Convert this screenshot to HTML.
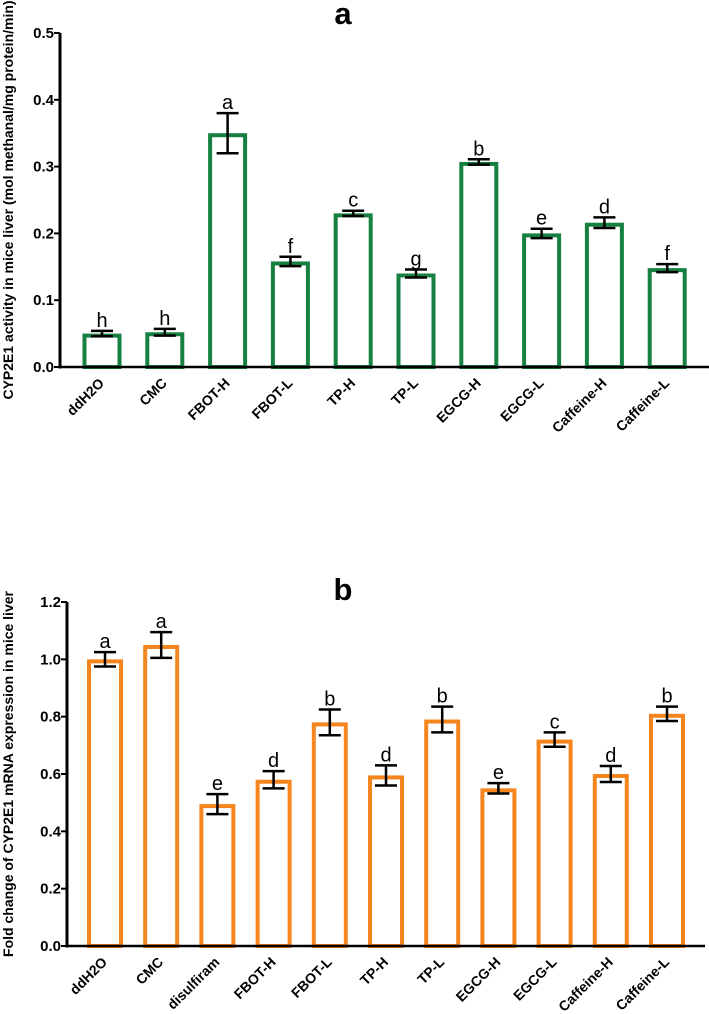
<!DOCTYPE html>
<html><head><meta charset="utf-8"><style>
body{margin:0;background:#fff;}
svg{display:block;font-family:"Liberation Sans",Arial,sans-serif;}
</style></head><body>
<svg id="chart" width="709" height="1014" viewBox="0 0 709 1014"></svg>
<script>
const catsA=["ddH2O","CMC","FBOT-H","FBOT-L","TP-H","TP-L","EGCG-H","EGCG-L","Caffeine-H","Caffeine-L"];
const valsA=[0.050,0.052,0.350,0.158,0.230,0.140,0.307,0.200,0.216,0.148];
const errsA=[0.004,0.005,0.030,0.007,0.004,0.006,0.004,0.007,0.008,0.006];
const letsA=["h","h","a","f","c","g","b","e","d","f"];
const ticksA=["0.0","0.1","0.2","0.3","0.4","0.5"];
const catsB=["ddH2O","CMC","disulfiram","FBOT-H","FBOT-L","TP-H","TP-L","EGCG-H","EGCG-L","Caffeine-H","Caffeine-L"];
const valsB=[1.00,1.05,0.495,0.58,0.78,0.595,0.79,0.55,0.72,0.60,0.81];
const errsB=[0.025,0.045,0.035,0.03,0.045,0.035,0.045,0.018,0.025,0.028,0.025];
const letsB=["a","a","e","d","b","d","b","e","c","d","b"];
const ticksB=["0.0","0.2","0.4","0.6","0.8","1.0","1.2"];
const NS="http://www.w3.org/2000/svg";
const svg=document.getElementById('chart');
function mk(tag,attrs,parent,text){const e=document.createElementNS(NS,tag);for(const k in attrs)e.setAttribute(k,attrs[k]);if(text!==undefined)e.textContent=text;(parent||svg).appendChild(e);return e;}
function panel(o){
  const g=mk('g',{});
  
  
  const y=v=>o.y0-(v/o.ymax)*(o.y0-o.ytop);
  const x=i=>o.x0c+i*o.step;
  const t=mk('text',{x:343,y:o.titleY,'font-size':31,'font-weight':'bold','text-anchor':'middle'},g,o.id);
  
  
  const yt=mk('text',{transform:`translate(${o.ylabX},${(o.y0+o.ytop)/2}) rotate(-90)`,'font-size':o.ylabSize,'font-weight':'bold','text-anchor':'middle'},g,o.ylab);
  
  
  o.ticks.forEach(tk=>{
    const v=parseFloat(tk),yy=y(v);
    const l=mk('line',{x1:o.ax-6,x2:o.ax,y1:yy,y2:yy,stroke:'#000','stroke-width':2},g);
    
    
    const tx=mk('text',{x:o.ax-6,y:yy+5,'font-size':15,'font-weight':'bold','text-anchor':'end'},g,tk);
    
    
  });
  o.vals.forEach((v,i)=>{
    const cx=x(i),top=y(v);
    const r=mk('rect',{x:cx-o.bw/2+2,y:top+2,width:o.bw-4,height:o.y0-top-2,fill:'#fff',stroke:o.color,'stroke-width':4},g);
    
    
    const e=o.errs[i],yh=y(v+e),yl=y(v-e);
    const eg=mk('g',{stroke:'#000','stroke-width':2.5},g);
    
    
    mk('line',{x1:cx,x2:cx,y1:yh,y2:yl},eg);
    mk('line',{x1:cx-11,x2:cx+11,y1:yh,y2:yh},eg);
    mk('line',{x1:cx-11,x2:cx+11,y1:yl,y2:yl},eg);
    const lt=mk('text',{x:cx,y:yh-4,'font-size':20,'text-anchor':'middle'},g,o.lets[i]);
    
    
    const xl=mk('text',{transform:`translate(${cx+3},${o.y0+17}) rotate(-45)`,'font-size':14,'font-weight':'bold','text-anchor':'end'},g,o.cats[i]);
    
    
  });
  const ya=mk('line',{x1:o.ax,x2:o.ax,y1:o.ytop,y2:o.y0+1.5,stroke:'#000','stroke-width':3},g);
  
  
  const xa=mk('line',{x1:o.ax-1.5,x2:o.xend,y1:o.y0,y2:o.y0,stroke:'#000','stroke-width':2.5},g);
  
  
}
panel({id:'a',cats:catsA,vals:valsA,errs:errsA,lets:letsA,ticks:ticksA,ymax:0.5,y0:367,ytop:33,ax:60,x0c:102,step:62.8,bw:39,color:'#168040',xend:709,titleY:24,ylabX:13,ylabSize:14,ylab:'CYP2E1 activity in mice liver (mol methanal/mg protein/min)'});
panel({id:'b',cats:catsB,vals:valsB,errs:errsB,lets:letsB,ticks:ticksB,ymax:1.2,y0:946,ytop:602,ax:67,x0c:105,step:56.2,bw:36,color:'#f5861f',xend:705,titleY:600,ylabX:13,ylabSize:14,ylab:'Fold change of CYP2E1 mRNA expression in mice liver'});
</script>
</body></html>
